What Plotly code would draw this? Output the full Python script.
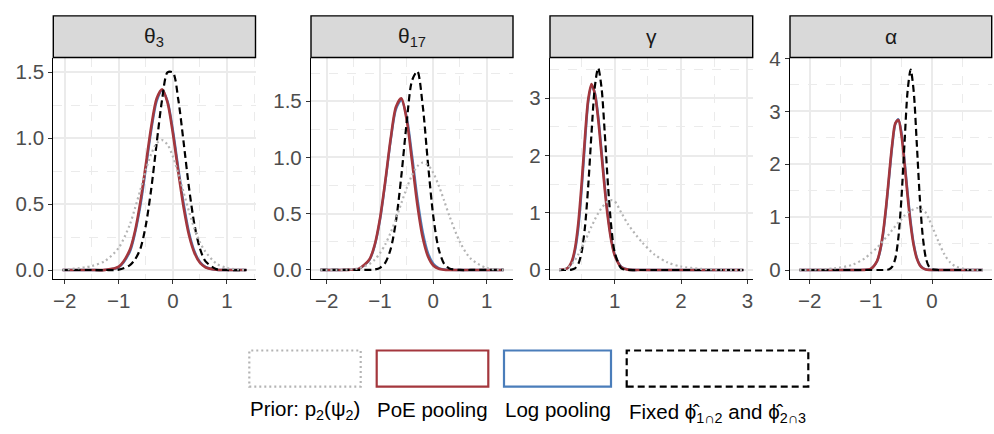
import plotly.graph_objects as go

W, H = 994, 434

# ---------------- data ----------------
panel_titles = ["θ<sub>3</sub>", "θ<sub>17</sub>", "γ", "α"]
series_labels = ["Prior: p<sub>2</sub>(ψ<sub>2</sub>)", "PoE pooling", "Log pooling",
                 "Fixed ϕ̂<sub>1∩2</sub> and ϕ̂<sub>2∩3</sub>"]

# Panel 1: theta_3
p1_x = [-2.04, -1.5, -1.25, -1.0, -0.8, -0.7, -0.6, -0.5, -0.4, -0.3, -0.2, -0.1, 0, 0.1, 0.2, 0.3, 0.4, 0.5, 0.6, 0.8, 1.0, 1.36]
p1_prior = [0.0005, 0.03, 0.07, 0.17, 0.34, 0.47, 0.61, 0.76, 0.88, 0.96, 0.985, 0.95, 0.86, 0.73, 0.585, 0.44, 0.31, 0.21, 0.14, 0.05, 0.015, 0.001]
p1_poe = [0, 0, 0.001, 0.026, 0.149, 0.296, 0.52, 0.80, 1.088, 1.30, 1.37, 1.27, 1.034, 0.742, 0.47, 0.26, 0.128, 0.055, 0.021, 0.002, 0, 0]
p1_log = [0, 0, 0.001, 0.022, 0.135, 0.28, 0.49, 0.77, 1.06, 1.28, 1.36, 1.28, 1.06, 0.77, 0.50, 0.28, 0.14, 0.06, 0.024, 0.002, 0, 0]
p1_fixed = [0, 0, 0, 0.003, 0.035, 0.08, 0.163, 0.34, 0.616, 0.961, 1.29, 1.497, 1.497, 1.29, 0.961, 0.616, 0.34, 0.163, 0.067, 0.007, 0, 0]

# Panel 2: theta_17
p2_x = [-2.12, -1.6, -1.4, -1.2, -1.1, -1.0, -0.9, -0.8, -0.7, -0.6, -0.5, -0.4, -0.3, -0.2, -0.1, 0, 0.1, 0.2, 0.3, 0.5, 0.7, 1.0, 1.32]
p2_prior = [0, 0.0034, 0.015, 0.053, 0.091, 0.149, 0.229, 0.333, 0.457, 0.593, 0.727, 0.842, 0.922, 0.954, 0.932, 0.861, 0.752, 0.62, 0.483, 0.248, 0.101, 0.017, 0.001]
p2_poe = [0, 0.0005, 0.01, 0.093, 0.224, 0.46, 0.796, 1.168, 1.45, 1.525, 1.335, 0.969, 0.582, 0.29, 0.12, 0.04, 0.011, 0.002, 0, 0, 0, 0, 0]
p2_log = [0, 0.0005, 0.009, 0.088, 0.215, 0.445, 0.78, 1.15, 1.43, 1.51, 1.36, 1.02, 0.64, 0.34, 0.15, 0.055, 0.017, 0.004, 0.001, 0, 0, 0, 0]
p2_fixed = [0, 0, 0, 0.001, 0.004, 0.019, 0.065, 0.186, 0.436, 0.836, 1.31, 1.683, 1.766, 1.465, 0.945, 0.475, 0.186, 0.057, 0.014, 0, 0, 0, 0]

# Panel 3: gamma
p3_x = [0.16, 0.25, 0.3, 0.35, 0.4, 0.45, 0.5, 0.55, 0.6, 0.65, 0.7, 0.75, 0.8, 0.85, 0.9, 0.95, 1.0, 1.1, 1.2, 1.4, 1.6, 1.8, 2.0, 2.3, 2.6, 2.94]
p3_prior = [0.003, 0.02, 0.05, 0.1, 0.17, 0.27, 0.38, 0.5, 0.63, 0.76, 0.88, 0.99, 1.08, 1.15, 1.2, 1.22, 1.2, 1.0, 0.8, 0.5, 0.27, 0.13, 0.06, 0.02, 0.005, 0.001]
p3_poe = [0, 0.013, 0.046, 0.143, 0.371, 0.81, 1.49, 2.30, 2.98, 3.25, 3.08, 2.64, 2.03, 1.41, 0.885, 0.498, 0.254, 0.048, 0.006, 0, 0, 0, 0, 0, 0, 0]
p3_log = [0, 0.011, 0.04, 0.125, 0.33, 0.72, 1.38, 2.2, 2.93, 3.22, 3.1, 2.7, 2.1, 1.47, 0.93, 0.53, 0.27, 0.055, 0.008, 0.001, 0, 0, 0, 0, 0, 0]
p3_fixed = [0, 0, 0.001, 0.007, 0.029, 0.103, 0.305, 0.735, 1.46, 2.39, 3.2, 3.53, 3.2, 2.39, 1.46, 0.735, 0.305, 0.029, 0.001, 0, 0, 0, 0, 0, 0, 0]

# Panel 4: alpha
p4_x = [-2.17, -1.6, -1.3, -1.1, -1.0, -0.9, -0.85, -0.8, -0.75, -0.7, -0.65, -0.6, -0.55, -0.5, -0.45, -0.4, -0.35, -0.3, -0.25, -0.2, -0.15, -0.1, -0.05, 0, 0.1, 0.2, 0.3, 0.4, 0.6, 0.83]
p4_prior = [0.001, 0.03, 0.1, 0.22, 0.32, 0.42, 0.48, 0.55, 0.62, 0.68, 0.76, 0.83, 0.9, 0.96, 1.03, 1.08, 1.12, 1.15, 1.17, 1.17, 1.13, 1.08, 0.96, 0.83, 0.55, 0.3, 0.14, 0.06, 0.01, 0]
p4_poe = [0, 0, 0, 0.002, 0.024, 0.169, 0.371, 0.715, 1.216, 1.819, 2.395, 2.777, 2.835, 2.547, 2.014, 1.403, 0.86, 0.463, 0.22, 0.092, 0.034, 0.011, 0.003, 0.001, 0, 0, 0, 0, 0, 0]
p4_log = [0, 0, 0, 0.002, 0.022, 0.16, 0.35, 0.68, 1.17, 1.77, 2.35, 2.76, 2.85, 2.6, 2.08, 1.47, 0.92, 0.5, 0.24, 0.1, 0.04, 0.013, 0.004, 0.001, 0, 0, 0, 0, 0, 0]
p4_fixed = [0, 0, 0, 0, 0, 0, 0, 0.0004, 0.003, 0.014, 0.063, 0.22, 0.615, 1.36, 2.4, 3.38, 3.79, 3.38, 2.4, 1.36, 0.615, 0.22, 0.063, 0.014, 0, 0, 0, 0, 0, 0]

# ---------------- styling ----------------
FONT = "Liberation Sans, Arial, Helvetica, sans-serif"
C_PRIOR, C_POE, C_LOG, C_FIXED = "#B4B4B4", "#A4373D", "#4A7DBA", "#000000"
DOT, DASH = "2px,3px", "7px,4px"

panels = [
    dict(x=p1_x, prior=p1_prior, poe=p1_poe, log=p1_log, fixed=p1_fixed,
         left=53.3, right=255.5, xr=[-2.211, 1.527], yr=[-0.066, 1.610], ydt=0.5, yfmt=".1f"),
    dict(x=p2_x, prior=p2_prior, poe=p2_poe, log=p2_log, fixed=p2_fixed,
         left=311.0, right=513.0, xr=[-2.295, 1.495], yr=[-0.078, 1.888], ydt=0.5, yfmt=".1f"),
    dict(x=p3_x, prior=p3_prior, poe=p3_poe, log=p3_log, fixed=p3_fixed,
         left=550.0, right=752.7, xr=[0.024, 3.081], yr=[-0.153, 3.712], ydt=1, yfmt="d"),
    dict(x=p4_x, prior=p4_prior, poe=p4_poe, log=p4_log, fixed=p4_fixed,
         left=790.0, right=991.7, xr=[-2.322, 0.975], yr=[-0.165, 4.018], ydt=1, yfmt="d"),
]

PLOT_TOP, PLOT_BOT, STRIP_TOP = 48.0, 276.0, 5.0


def fx(px):
    return px / W


def fy(py):
    return 1 - py / H


fig = go.Figure()
shapes, annotations = [], []
layout_axes = {}

for i, p in enumerate(panels, start=1):
    xa = "x" if i == 1 else f"x{i}"
    ya = "y" if i == 1 else f"y{i}"
    common = dict(xaxis=xa, yaxis=ya, mode="lines", showlegend=False, hoverinfo="skip")
    fig.add_trace(go.Scatter(x=p["x"], y=p["log"], line=dict(color=C_LOG, width=2.4, shape="spline", smoothing=0.8), **common))
    fig.add_trace(go.Scatter(x=p["x"], y=p["poe"], line=dict(color=C_POE, width=2.6, shape="spline", smoothing=0.8), **common))
    fig.add_trace(go.Scatter(x=p["x"], y=p["fixed"], line=dict(color=C_FIXED, width=2.2, dash=DASH, shape="spline", smoothing=0.8), **common))
    fig.add_trace(go.Scatter(x=p["x"], y=p["prior"], line=dict(color=C_PRIOR, width=2.2, dash=DOT, shape="spline", smoothing=0.8), **common))

    axis_common = dict(
        showline=True, linecolor="black", linewidth=1.3, mirror=False,
        ticks="outside", ticklen=4, tickwidth=1.1, tickcolor="#333333",
        tickfont=dict(family=FONT, size=20.5, color="#4D4D4D"),
        showgrid=True, gridcolor="#EBEBEB", gridwidth=1.6, zeroline=False,
        tickmode="linear", tick0=0,
    )
    kx = "xaxis" if i == 1 else f"xaxis{i}"
    ky = "yaxis" if i == 1 else f"yaxis{i}"
    layout_axes[kx] = dict(
        axis_common, domain=[fx(p["left"]), fx(p["right"])], range=p["xr"], dtick=1,
        anchor=ya,
        minor=dict(dtick=0.5, tick0=0, showgrid=True, gridcolor="#EBEBEB", gridwidth=1.1, griddash="dash", ticks=""),
    )
    layout_axes[ky] = dict(
        axis_common, domain=[fy(PLOT_BOT), fy(PLOT_TOP)], range=p["yr"], dtick=p["ydt"],
        tickformat=p["yfmt"], anchor=xa,
        minor=dict(dtick=p["ydt"] / 2, tick0=0, showgrid=True, gridcolor="#EBEBEB", gridwidth=1.1, griddash="dash", ticks=""),
    )

    # facet strip
    shapes.append(dict(type="rect", xref="paper", yref="paper",
                       x0=fx(p["left"]), x1=fx(p["right"]), y0=fy(PLOT_TOP), y1=fy(STRIP_TOP),
                       fillcolor="#D9D9D9", line=dict(color="black", width=1.4)))
    annotations.append(dict(xref="paper", yref="paper", x=fx((p["left"] + p["right"]) / 2),
                            y=fy((PLOT_TOP + STRIP_TOP) / 2), text=panel_titles[i - 1], showarrow=False,
                            xanchor="center", yanchor="middle",
                            font=dict(family=FONT, size=21, color="#1A1A1A")))

# ---------------- legend (drawn manually as ggplot-like wide keys) ----------------
key_boxes = [(249.3, 360.7), (376.7, 488.3), (504.0, 611.0), (626.7, 808.3)]
key_styles = [(C_PRIOR, DOT), (C_POE, "solid"), (C_LOG, "solid"), (C_FIXED, DASH)]
label_y = [411.0, 411.0, 411.0, 414.0]
KEY_TOP, KEY_BOT = 350.0, 387.3
for (x0, x1), (col, dash), lab, ly in zip(key_boxes, key_styles, series_labels, label_y):
    shapes.append(dict(type="rect", xref="paper", yref="paper",
                       x0=fx(x0), x1=fx(x1), y0=fy(KEY_BOT), y1=fy(KEY_TOP),
                       fillcolor="white", line=dict(color=col, width=2.2, dash=dash)))
    annotations.append(dict(xref="paper", yref="paper", x=fx((x0 + x1) / 2), y=fy(ly),
                            text=lab, showarrow=False, xanchor="center", yanchor="middle",
                            font=dict(family=FONT, size=20.5, color="black")))

fig.update_layout(
    width=W, height=H, margin=dict(l=0, r=0, t=0, b=0),
    paper_bgcolor="white", plot_bgcolor="white",
    shapes=shapes, annotations=annotations, hovermode=False,
    **layout_axes,
)

fig.write_html("out.html", config={"displayModeBar": False})
